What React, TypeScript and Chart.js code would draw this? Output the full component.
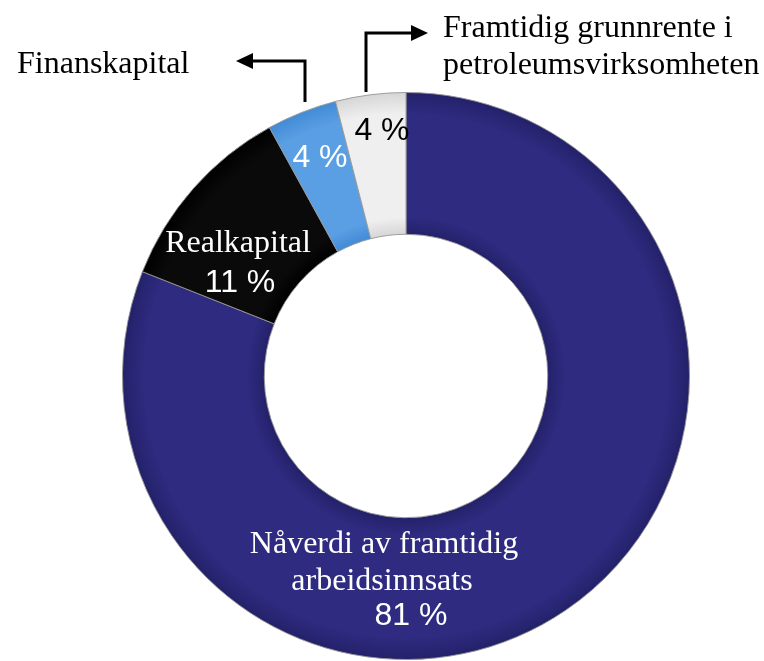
import React, { useEffect, useRef } from "react";
import { Chart, registerables } from "chart.js";

Chart.register(...registerables);

const categories = [
  "Nåverdi av framtidig arbeidsinnsats",
  "Realkapital",
  "Finanskapital",
  "Framtidig grunnrente i petroleumsvirksomheten",
];
const shares = [81, 11, 4, 4];
const valueLabels = ["81 %", "11 %", "4 %", "4 %"];
const colorsMid = ["#2E2B80", "#0A0A0A", "#5A9FE4", "#EFEFEF"];
const colorsEdge = ["#24216A", "#000000", "#428BD6", "#D6D6D6"];

const SERIF = "32px 'Liberation Serif', 'Times New Roman', serif";
const SANS = "32px 'Liberation Sans', Arial, sans-serif";

// label placement relative to the doughnut centre (style only)
const labelLayout = [
  { lines: [["Nåverdi av framtidig", -22, 177, SERIF, "center"], ["arbeidsinnsats", -24, 214, SERIF, "center"], [valueLabels[0], 5, 249, SANS, "center"]], color: "#ffffff" },
  { lines: [["Realkapital", -168, -124, SERIF, "center"], [valueLabels[1], -166, -84, SANS, "center"]], color: "#ffffff" },
  { lines: [[valueLabels[2], -86, -209, SANS, "center"]], color: "#ffffff" },
  { lines: [[valueLabels[3], -24, -236, SANS, "center"]], color: "#000000" },
];

const labelPlugin = {
  id: "customLabels",
  afterDraw(chart: any) {
    const ctx = chart.ctx;
    const arc = chart.getDatasetMeta(0).data[0];
    if (!arc) return;
    const cx = arc.x;
    const cy = arc.y;
    ctx.save();
    ctx.textBaseline = "alphabetic";
    labelLayout.forEach((l) => {
      ctx.fillStyle = l.color;
      l.lines.forEach((ln: any) => {
        ctx.font = ln[3];
        ctx.textAlign = ln[4];
        ctx.fillText(ln[0], cx + ln[1], cy + ln[2]);
      });
    });

    // outside labels
    ctx.fillStyle = "#000";
    ctx.font = SERIF;
    ctx.textAlign = "left";
    ctx.fillText(categories[2], cx - 389, cy - 303);
    ctx.fillText("Framtidig grunnrente i", cx + 37, cy - 339);
    ctx.fillText("petroleumsvirksomheten", cx + 37, cy - 302);

    // arrows
    ctx.strokeStyle = "#000";
    ctx.lineWidth = 3;
    ctx.lineJoin = "miter";
    ctx.beginPath();
    ctx.moveTo(cx - 101, cy - 274);
    ctx.lineTo(cx - 101, cy - 315);
    ctx.lineTo(cx - 154, cy - 315);
    ctx.stroke();
    ctx.beginPath();
    ctx.moveTo(cx - 170, cy - 315);
    ctx.lineTo(cx - 153, cy - 323);
    ctx.lineTo(cx - 153, cy - 307);
    ctx.closePath();
    ctx.fill();

    ctx.beginPath();
    ctx.moveTo(cx - 40, cy - 284);
    ctx.lineTo(cx - 40, cy - 343);
    ctx.lineTo(cx + 7, cy - 343);
    ctx.stroke();
    ctx.beginPath();
    ctx.moveTo(cx + 22, cy - 343);
    ctx.lineTo(cx + 5, cy - 351);
    ctx.lineTo(cx + 5, cy - 335);
    ctx.closePath();
    ctx.fill();
    ctx.restore();
  },
};

function ringFill(context: any) {
  const i = context.dataIndex;
  const chart = context.chart;
  const el = chart.getDatasetMeta(0).data[i];
  if (!el || !el.outerRadius) return colorsMid[i];
  const { x, y, innerRadius, outerRadius } = el;
  const g = chart.ctx.createRadialGradient(x, y, innerRadius, x, y, outerRadius);
  g.addColorStop(0, colorsEdge[i]);
  g.addColorStop(0.12, colorsMid[i]);
  g.addColorStop(0.85, colorsMid[i]);
  g.addColorStop(1, colorsEdge[i]);
  return g;
}

export default function App() {
  const ref = useRef<HTMLCanvasElement>(null);
  useEffect(() => {
    if (!ref.current) return;
    const chart = new Chart(ref.current, {
      type: "doughnut",
      data: {
        labels: categories,
        datasets: [
          {
            data: shares,
            backgroundColor: ringFill,
            borderColor: "rgba(150,150,150,0.9)",
            borderWidth: 1,
          },
        ],
      },
      options: {
        responsive: false,
        animation: false,
        cutout: "50%",
        rotation: 0,
        layout: { padding: { left: 122, right: 74, top: 92, bottom: 1 } },
        plugins: {
          legend: { display: false },
          tooltip: { enabled: false },
        },
      },
      plugins: [labelPlugin],
    });
    chart.update();
    return () => chart.destroy();
  }, []);
  return (
    <div style={{ position: "absolute", left: 0, top: 0, width: 764, height: 661, background: "#fff" }}>
      <canvas ref={ref} width={764} height={661} />
    </div>
  );
}
